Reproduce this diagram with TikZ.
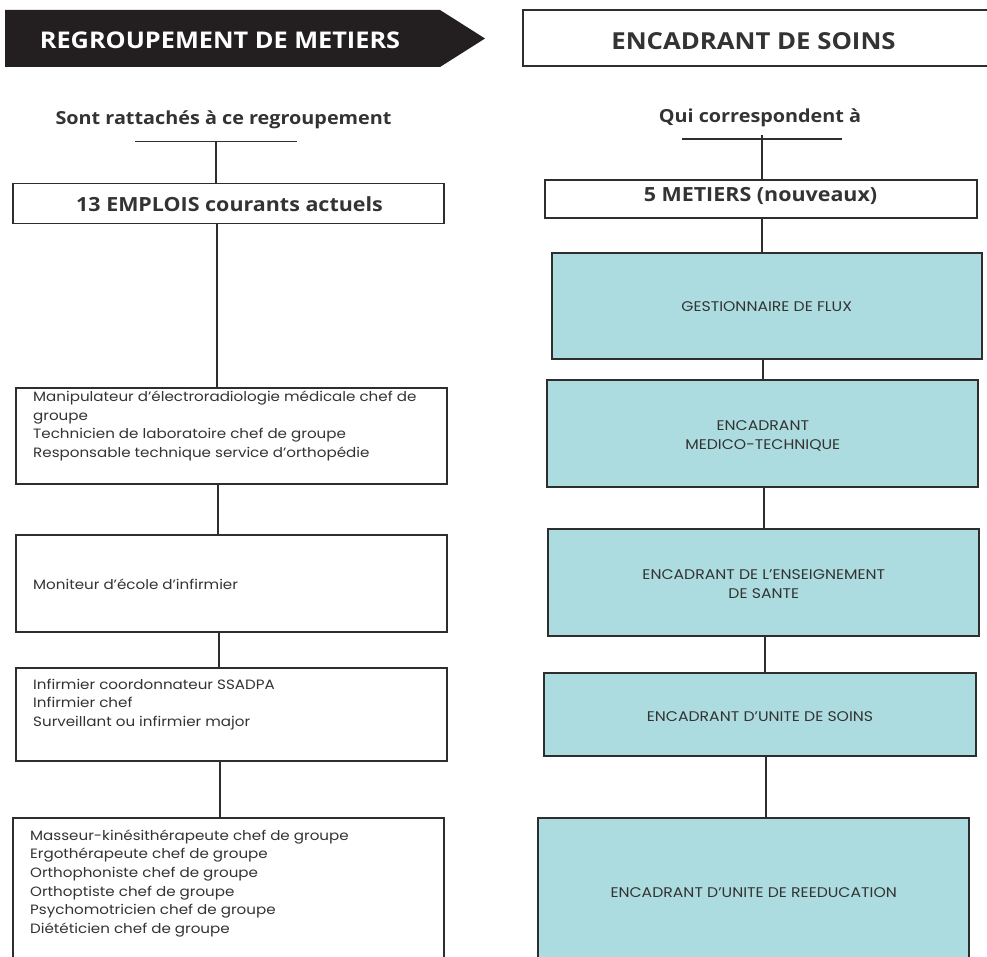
\documentclass[tikz,border=0pt]{standalone}
\usepackage{fontspec}
\setmainfont{Poppins}[FakeStretch=1.12]
\newfontfamily\headfont{Open Sans}[FakeStretch=1.1]
\definecolor{linec}{HTML}{2E2E2E}
\definecolor{txtc}{HTML}{333333}
\definecolor{boxblue}{HTML}{ADDCE0}
\definecolor{hdrblack}{HTML}{231F20}
\tikzset{
  box/.style={draw=linec, line width=1.3pt, inner sep=0pt},
  bluebox/.style={box, fill=boxblue},
  bodytxt/.style={anchor=base west, align=left, inner sep=0pt, text=txtc, font=\fontsize{13.5}{18.7}\selectfont},
  bluetxt/.style={anchor=base, align=center, inner sep=0pt, text=txtc, font=\fontsize{14}{18.7}\selectfont},
  headtxt/.style={anchor=base, inner sep=0pt, text=txtc, font=\headfont\bfseries\fontsize{18}{20}\selectfont},
  boxhead/.style={anchor=base, inner sep=0pt, text=txtc, font=\headfont\bfseries\fontsize{19.5}{22}\selectfont},
  bigtxt/.style={anchor=base, inner sep=0pt, font=\headfont\bfseries\fontsize{23}{26}\selectfont},
  conn/.style={draw=linec, line width=1.3pt},
}
\begin{document}
\begin{tikzpicture}[x=1pt,y=-1pt]
\useasboundingbox (0,0) rectangle (987,957);
\clip (0,0) rectangle (987,957);
% ---------- headers
\fill[hdrblack] (5,10) -- (440,10) -- (485,38.5) -- (440,67) -- (5,67) -- cycle;
\node[bigtxt, text=white] (hdrL) at (220,48.3) {REGROUPEMENT DE METIERS};
\node[draw=linec, line width=2.6pt, minimum width=480, minimum height=56, inner sep=0pt] (hdrRbox) at (763,38) {};
\node[bigtxt, text=txtc, font=\headfont\bfseries\fontsize{23.4}{26}\selectfont] (hdrR) at (753.5,50) {ENCADRANT DE SOINS};
% ---------- left column
\node[headtxt] (subL) at (223.5,125) {Sont rattachés à ce regroupement};
\coordinate (hlL1) at (135,141.7);
\coordinate (hlL2) at (297,141.7);
\draw[conn] (hlL1) -- (hlL2);
\node[box, minimum width=431, minimum height=40] (emplois) at (228.5,203.3) {};
\node[boxhead] (emploisT) at (229.5,211.7) {13 EMPLOIS courants actuels};
\coordinate (vL0) at (216,141.7);
\draw[conn] (vL0) -- (vL0 |- emplois.north);

\node[box, minimum width=431, minimum height=96] (L1) at (231.5,436) {};
\node[bodytxt] (L1t) at (33,457.6) {Manipulateur d’électroradiologie médicale chef de\\groupe\\Technicien de laboratoire chef de groupe\\Responsable technique service d’orthopédie};
\node[box, minimum width=431, minimum height=97] (L2) at (231.5,583.5) {};
\node[bodytxt] (L2t) at (33,589) {Moniteur d’école d’infirmier};
\node[box, minimum width=431, minimum height=93] (L3) at (231.5,714.5) {};
\node[bodytxt] (L3t) at (33,726.4) {Infirmier coordonnateur SSADPA\\Infirmier chef\\Surveillant ou infirmier major};
\node[box, minimum width=431, minimum height=170] (L4) at (228.5,903) {};
\node[bodytxt] (L4t) at (30,933.5) {Masseur-kinésithérapeute chef de groupe\\Ergothérapeute chef de groupe\\Orthophoniste chef de groupe\\Orthoptiste chef de groupe\\Psychomotricien chef de groupe\\Diététicien chef de groupe};

\coordinate (cL1) at (217,0);
\coordinate (cL2) at (218,0);
\coordinate (cL3) at (219,0);
\coordinate (cL4) at (220,0);
\draw[conn] (cL1 |- emplois.south) -- (cL1 |- L1.north);
\draw[conn] (cL2 |- L1.south) -- (cL2 |- L2.north);
\draw[conn] (cL3 |- L2.south) -- (cL3 |- L3.north);
\draw[conn] (cL4 |- L3.south) -- (cL4 |- L4.north);

% ---------- right column
\node[headtxt] (subR) at (760,123) {Qui correspondent à};
\coordinate (hlR1) at (682,139);
\coordinate (hlR2) at (842,139);
\draw[conn] (hlR1) -- (hlR2);
\node[box, minimum width=432, minimum height=38] (metiers) at (761,199) {};
\node[boxhead] (metiersT) at (760.5,201.7) {5 METIERS (nouveaux)};
\coordinate (vR0) at (762,135);
\draw[conn] (vR0) -- (vR0 |- metiers.north);

\node[bluebox, minimum width=430, minimum height=106] (R1) at (767,306) {};
\node[bluetxt] (R1t) at (766.7,312) {GESTIONNAIRE DE FLUX};
\node[bluebox, minimum width=431, minimum height=107] (R2) at (762.5,433.5) {};
\node[bluetxt] (R2t) at (762.8,449) {ENCADRANT\\MEDICO-TECHNIQUE};
\node[bluebox, minimum width=431, minimum height=107] (R3) at (763.5,582.5) {};
\node[bluetxt] (R3t) at (763.8,598) {ENCADRANT DE L’ENSEIGNEMENT\\DE SANTE};
\node[bluebox, minimum width=432, minimum height=83] (R4) at (760,714.5) {};
\node[bluetxt] (R4t) at (760,721) {ENCADRANT D’UNITE DE SOINS};
\node[bluebox, minimum width=431, minimum height=170] (R5) at (753.5,903) {};
\node[bluetxt] (R5t) at (753.7,897) {ENCADRANT D’UNITE DE REEDUCATION};

\coordinate (cR1) at (762,0);
\coordinate (cR2) at (763,0);
\coordinate (cR3) at (764,0);
\coordinate (cR4) at (765,0);
\coordinate (cR5) at (766,0);
\draw[conn] (cR1 |- metiers.south) -- (cR1 |- R1.north);
\draw[conn] (cR2 |- R1.south) -- (cR2 |- R2.north);
\draw[conn] (cR3 |- R2.south) -- (cR3 |- R3.north);
\draw[conn] (cR4 |- R3.south) -- (cR4 |- R4.north);
\draw[conn] (cR5 |- R4.south) -- (cR5 |- R5.north);
\end{tikzpicture}
\end{document}
